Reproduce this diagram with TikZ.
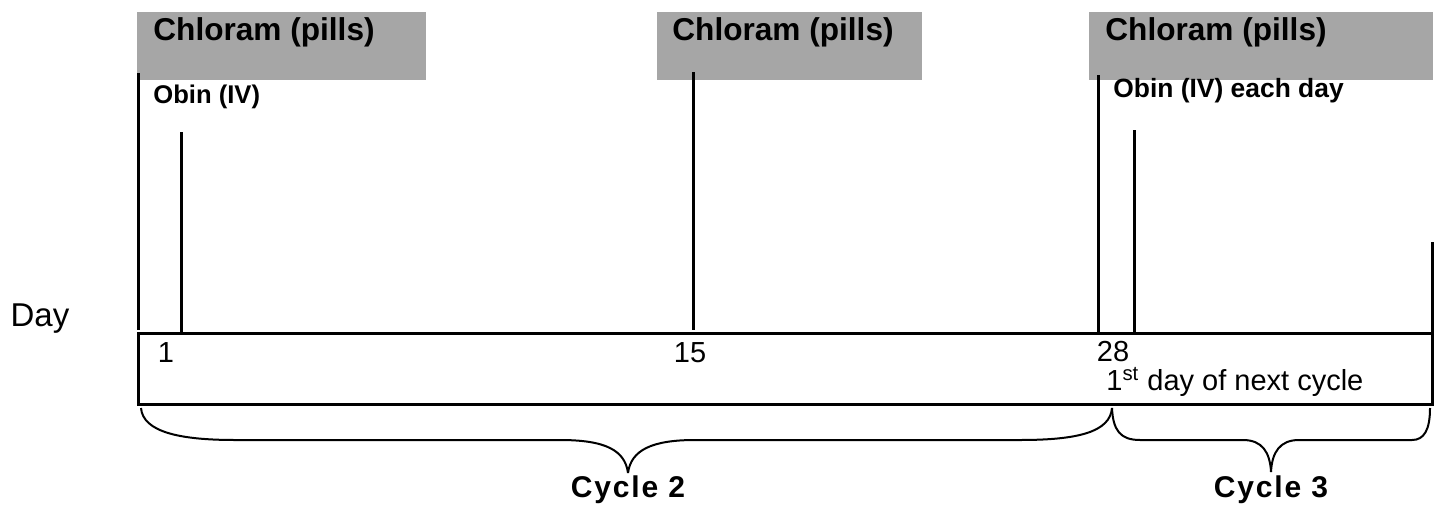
\documentclass[tikz,border=0pt]{standalone}
\usepackage{fontspec}
\setmainfont{Liberation Sans}
\usetikzlibrary{positioning}

\definecolor{pillgray}{HTML}{A6A6A6}

\tikzset{
  tick/.style={line width=1.5pt},
  brace/.style={line width=1pt},
  pillbox/.style={fill=pillgray,draw=none},
  pilltext/.style={anchor=west,inner sep=0pt,font=\fontsize{15.8}{18}\selectfont\bfseries},
  numtext/.style={inner sep=0pt,font=\fontsize{14.5}{17}\selectfont},
  cycletext/.style={inner sep=0pt,font=\fontsize{15}{17}\selectfont\bfseries\addfontfeature{LetterSpace=6}},
}

\begin{document}
\begin{tikzpicture}[x=0.5pt,y=-0.5pt,line join=miter]
\useasboundingbox (0,0) rectangle (1440,504);

% Node: chloram boxes
\fill[pillbox] (137,12) rectangle (426,80);
\fill[pillbox] (657,12) rectangle (922,80);
\fill[pillbox] (1089,12) rectangle (1433,80);
\node[pilltext] (chl1) at (153,32) {Chloram (pills)};
\node[pilltext] (chl2) at (672,32) {Chloram (pills)};
\node[pilltext] (chl3) at (1105,32) {Chloram (pills)};

% Node: obin labels
\node[anchor=west,inner sep=0pt,font=\fontsize{12.8}{15}\selectfont\bfseries] (obin1) at (153,97) {Obin (IV)};
\node[anchor=west,inner sep=0pt,font=\fontsize{13.2}{16}\selectfont\bfseries] (obin3) at (1113,91) {Obin (IV) each day};

% Ticks
\draw[tick] (138,73) -- (138,330);
\draw[tick] (181,132) -- (181,333);
\draw[tick] (693,72) -- (693,330);
\draw[tick] (1098,75) -- (1098,333);
\draw[tick] (1134,130) -- (1134,333);
\draw[tick] (1432,242) -- (1432,333);

% Node: timeline box
\draw[tick] (138,333) rectangle (1432,404);
\node[inner sep=0pt,font=\fontsize{16.5}{19}\selectfont] (day) at (40,319) {Day};
\node[numtext] (d1) at (166,353) {1};
\node[numtext] (d15) at (690,353) {15};
\node[numtext] (d28) at (1113,352) {28};
\node[numtext,anchor=west] (next) at (1106,382) {1\textsuperscript{st} day of next cycle};

% Brace: cycle 2
\draw[brace] (141,408) .. controls (143,432) and (180,440) .. (235,440) -- (560,440)
  .. controls (605,440) and (625,450) .. (628,473);
\draw[brace] (628,473) .. controls (631,450) and (652,440) .. (695,440) -- (1020,440)
  .. controls (1078,440) and (1110,432) .. (1112,408);

% Brace: cycle 3
\draw[brace] (1112,408) .. controls (1113,430) and (1120,440) .. (1140,440) -- (1243,440)
  .. controls (1262,440) and (1270,452) .. (1271,472);
\draw[brace] (1271,472) .. controls (1272,452) and (1280,440) .. (1299,440) -- (1412,440)
  .. controls (1424,440) and (1430,430) .. (1430,408);

% Node: cycle labels
\node[cycletext] (cyc2) at (628,490) {Cycle 2};
\node[cycletext] (cyc3) at (1271,490) {Cycle 3};

\end{tikzpicture}
\end{document}
